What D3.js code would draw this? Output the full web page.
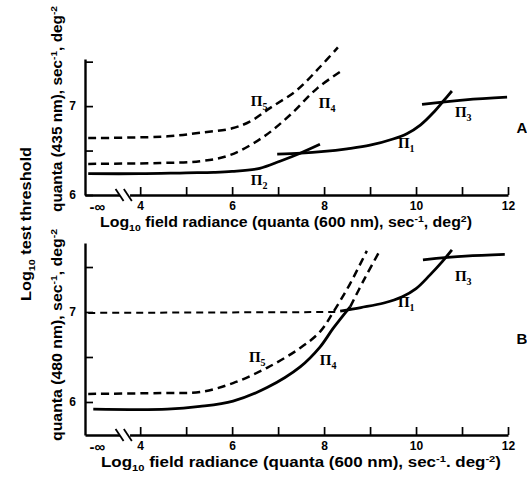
<!DOCTYPE html>
<html>
<head>
<meta charset="utf-8">
<script src="https://cdn.jsdelivr.net/npm/d3@7"></script>
<style>
  body { margin: 0; background: #fff; }
  text { font-family: "Liberation Sans", Arial, sans-serif; font-weight: bold; fill: #000; }
</style>
</head>
<body>
<svg width="527" height="482"></svg>
<script>
const width = 527;
const height = 482;

// log10 field radiance; the first point of each curve sits at "-inf"
const minusInf = 2.87;
const xTicks = [4, 5, 6, 7, 8, 9, 10, 11, 12];
const xLabelled = [4, 6, 8, 10, 12];

// panel A, test at 435 nm
const yTicksA = [6, 6.5, 7, 7.5];
const aPi2 = [[minusInf, 6.24], [4, 6.24], [5, 6.25], [5.6, 6.255], [6, 6.265], [6.6, 6.3], [7.04, 6.38], [7.48, 6.47], [7.91, 6.57]];
const aPi1 = [[6.98, 6.46], [7.5, 6.47], [8.0, 6.49], [8.5, 6.52], [9.0, 6.56], [9.5, 6.63], [9.8, 6.69], [10.1, 6.79], [10.4, 6.94], [10.6, 7.06], [10.78, 7.17]];
const aPi3 = [[10.13, 7.02], [11.07, 7.07], [11.98, 7.1]];
const aPi5 = [[minusInf, 6.64], [4.6, 6.66], [5.3, 6.7], [6.0, 6.75], [6.4, 6.83], [6.83, 6.98], [7.41, 7.18], [7.91, 7.44], [8.3, 7.66]];
const aPi4 = [[minusInf, 6.35], [4.43, 6.36], [5.3, 6.38], [5.96, 6.45], [6.67, 6.65], [7.26, 6.9], [7.85, 7.2], [8.39, 7.4]];

// panel B, test at 480 nm
const yTicksB = [6, 6.5, 7, 7.5];
const bFlat = [[minusInf, 6.99], [8.28, 7.0]];
const bPi4 = [[2.98, 5.92], [4.59, 5.92], [5.3, 5.95], [6.02, 6.01], [6.76, 6.16], [7.48, 6.39], [7.91, 6.61], [8.2, 6.82], [8.57, 7.06]];
const bPi4Dash = [[8.57, 7.06], [8.89, 7.38], [9.2, 7.67]];
const bPi5 = [[minusInf, 6.09], [4.6, 6.1], [5.3, 6.11], [6.02, 6.21], [6.76, 6.38], [7.48, 6.6], [7.91, 6.78], [8.2, 7.0], [8.55, 7.3], [8.93, 7.68]];
const bPi1 = [[8.35, 7.01], [8.8, 7.05], [9.3, 7.1], [9.7, 7.17], [10.0, 7.26], [10.3, 7.41], [10.57, 7.56], [10.78, 7.69]];
const bPi3 = [[10.15, 7.58], [11.07, 7.62], [11.93, 7.64]];

// curve labels: [subscript, x, y]
const labelsA = [["5", 6.63, 7.06], ["4", 8.11, 7.03], ["2", 6.63, 6.17], ["1", 9.83, 6.58], ["3", 11.07, 6.93]];
const labelsB = [["1", 9.83, 7.11], ["3", 11.07, 7.4], ["4", 8.13, 6.47], ["5", 6.59, 6.5]];

const svg = d3.select("svg");
const x = d3.scaleLinear().domain([2.8, 12]).range([85, 508]);

const line = y => d3.line()
  .x(d => x(d[0]))
  .y(d => y(d[1]))
  .curve(d3.curveCatmullRom.alpha(0.5));

// text with sub/superscripts, parts = [[string, "n"|"sub"|"sup"], ...]
const rich = (sel, parts, size) => {
  let shift = 0;
  parts.forEach(([s, kind]) => {
    const target = kind === "sub" ? 4 : kind === "sup" ? -5 : 0;
    sel.append("tspan")
      .attr("dy", target - shift)
      .style("font-size", kind === "n" ? size + "px" : (size * 0.66) + "px")
      .text(s);
    shift = target;
  });
};

function panel(opt) {
  const g = svg.append("g");
  const y = d3.scaleLinear().domain(opt.yDomain).range(opt.yRange);
  const base = opt.yRange[0];

  // x axis
  const xa = g.append("g")
    .attr("transform", `translate(0,${base})`)
    .call(d3.axisBottom(x)
      .tickValues(xTicks)
      .tickSize(-8)
      .tickSizeOuter(0)
      .tickPadding(6)
      .tickFormat(d => (xLabelled.includes(d) ? d : "")));
  xa.select(".domain").attr("stroke-width", 2.4);
  xa.selectAll(".tick line").attr("stroke-width", 1.7);
  xa.selectAll("text").style("font-size", "12px");

  // axis break
  g.append("rect")
    .attr("x", x(3.56)).attr("y", base - 3)
    .attr("width", x(3.78) - x(3.56)).attr("height", 6)
    .attr("fill", "#fff");
  [3.53, 3.71].forEach(v => {
    g.append("line")
      .attr("x1", x(v) - 3).attr("y1", base - 6)
      .attr("x2", x(v) + 5).attr("y2", base + 6)
      .attr("stroke", "#000").attr("stroke-width", 1.8);
  });
  g.append("text")
    .attr("x", x(3.07)).attr("y", base + 17)
    .attr("text-anchor", "middle")
    .style("font-size", "15px")
    .text("-∞");

  // y axis
  const ya = g.append("g")
    .attr("transform", `translate(${x.range()[0]},0)`)
    .call(d3.axisLeft(y)
      .tickValues(opt.yTicks)
      .tickSize(-8)
      .tickSizeOuter(0)
      .tickPadding(9)
      .tickFormat(d => (Number.isInteger(d) ? d : "")));
  ya.select(".domain").attr("stroke-width", 2.4);
  ya.selectAll(".tick line").attr("stroke-width", 1.7);
  ya.selectAll("text").style("font-size", "12px");

  // curves
  opt.curves.forEach(c => {
    g.append("path")
      .attr("d", line(y)(c.data))
      .attr("fill", "none")
      .attr("stroke", "#000")
      .attr("stroke-width", c.w || 2.8)
      .attr("stroke-dasharray", c.dash || null);
  });

  // curve labels
  opt.labels.forEach(([sub, lx, ly]) => {
    const t = g.append("text")
      .attr("x", x(lx) - 2)
      .attr("y", y(ly) + 5)
      .attr("text-anchor", "middle")
      .style("font-family", "'Liberation Serif', serif")
      .style("font-size", "15px");
    t.append("tspan").text("Π");
    t.append("tspan").attr("dy", 4).style("font-size", "10px").text(sub);
  });

  // x title
  const xt = g.append("text")
    .attr("x", opt.xTitleX)
    .attr("y", base + 32)
    .attr("text-anchor", "middle")
    .attr("textLength", opt.xTitleLen)
    .attr("lengthAdjust", "spacingAndGlyphs");
  rich(xt, opt.xTitle, 14);

  // y title
  const yt = g.append("text")
    .attr("transform", `translate(62,${opt.yTitleY}) rotate(-90)`)
    .attr("text-anchor", "middle")
    .attr("textLength", opt.yTitleLen)
    .attr("lengthAdjust", "spacingAndGlyphs");
  rich(yt, opt.yTitle, 14);

  g.append("text")
    .attr("x", 522).attr("y", opt.letterY + 6)
    .attr("text-anchor", "middle")
    .style("font-size", "15px")
    .text(opt.letter);
}

panel({
  yDomain: [6, 7.53], yRange: [195, 59], yTicks: yTicksA,
  curves: [
    { data: aPi2 }, { data: aPi1 }, { data: aPi3 },
    { data: aPi5, dash: "8,5", w: 2.5 }, { data: aPi4, dash: "8,5", w: 2.5 }
  ],
  labels: labelsA,
  xTitle: [["Log", "n"], ["10", "sub"], [" field radiance (quanta (600 nm), sec", "n"], ["-1", "sup"], [", deg", "n"], ["2", "sup"], [")", "n"]],
  xTitleX: 286, xTitleLen: 372,
  yTitle: [["quanta (435 nm), sec", "n"], ["-1", "sup"], [", deg", "n"], ["-2", "sup"]],
  yTitleY: 109, yTitleLen: 206,
  letter: "A", letterY: 127
});

panel({
  yDomain: [5.633, 7.767], yRange: [435, 243], yTicks: yTicksB,
  curves: [
    { data: bFlat, dash: "7,5", w: 2 },
    { data: bPi4 }, { data: bPi4Dash, dash: "8,5", w: 2.5 },
    { data: bPi5, dash: "8,5", w: 2.5 },
    { data: bPi1 }, { data: bPi3 }
  ],
  labels: labelsB,
  xTitle: [["Log", "n"], ["10", "sub"], [" field radiance (quanta (600 nm), sec", "n"], ["-1", "sup"], [". deg", "n"], ["-2", "sup"], [")", "n"]],
  xTitleX: 301, xTitleLen: 400,
  yTitle: [["quanta (480 nm), sec", "n"], ["-1", "sup"], [", deg", "n"], ["-2", "sup"]],
  yTitleY: 335, yTitleLen: 212,
  letter: "B", letterY: 338
});

// shared y title
const lt = svg.append("text")
  .attr("transform", "translate(31,224) rotate(-90)")
  .attr("text-anchor", "middle")
  .attr("textLength", 154)
  .attr("lengthAdjust", "spacingAndGlyphs");
rich(lt, [["Log", "n"], ["10", "sub"], [" test threshold", "n"]], 14);
</script>
</body>
</html>
